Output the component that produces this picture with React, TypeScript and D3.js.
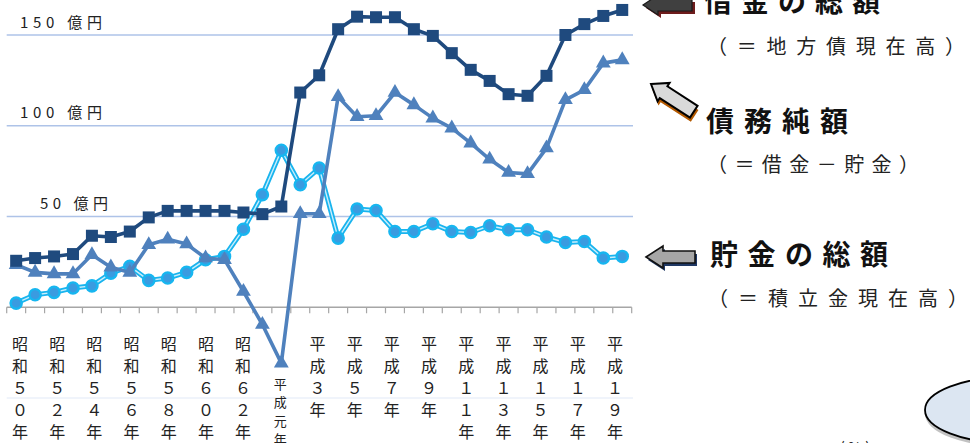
import React from 'react';
import * as d3 from 'd3';

const categories = [
  '昭和50年', '昭和51年', '昭和52年', '昭和53年', '昭和54年', '昭和55年', '昭和56年', '昭和57年',
  '昭和58年', '昭和59年', '昭和60年', '昭和61年', '昭和62年', '昭和63年', '平成元年', '平成2年',
  '平成3年', '平成4年', '平成5年', '平成6年', '平成7年', '平成8年', '平成9年', '平成10年',
  '平成11年', '平成12年', '平成13年', '平成14年', '平成15年', '平成16年', '平成17年', '平成18年', '平成19年',
];

// 借金の総額（地方債現在高）
const debtTotal = [
  25.6, 27.1, 28, 29.3, 39.4, 38.7, 41.7, 49.5, 53.1, 53.1, 53.1, 53.1, 52.2, 51.3, 55.5, 118.3,
  127.8, 153.2, 160.1, 159.8, 159.8, 153.2, 149.5, 140, 130.8, 124.7, 117.4, 116.5, 127.5, 150, 156, 160.5, 163.8,
];
// 債務純額（借金－貯金）
const netDebt = [
  23.4, 19.2, 18.4, 18.4, 28.9, 22.1, 19.2, 34.4, 37.5, 34.8, 27.1, 26.2, 8.7, -9.5, -30.8, 51.5,
  51.5, 116, 105, 105.5, 118.3, 111.5, 104.2, 98.7, 90.4, 81.5, 74.2, 73.5, 87.7, 114.3, 119.8, 134.5, 136.3,
];
// 貯金の総額（積立金現在高）
const savings = [
  2.3, 6.9, 8.2, 10.6, 11.8, 18.8, 22.5, 14.8, 16.1, 19.2, 26.2, 28, 43, 62, 86.5, 67.5,
  76.7, 38.1, 54.1, 53.3, 41.7, 41.7, 46, 41.7, 41.2, 44.9, 42.7, 42.7, 38.7, 35.7, 36.2, 27.1, 28,
];

const tickLabels = [
  '昭和50年', '昭和52年', '昭和54年', '昭和56年', '昭和58年', '昭和60年', '昭和62年', '平成元年',
  '平成3年', '平成5年', '平成7年', '平成9年', '平成11年', '平成13年', '平成15年', '平成17年', '平成19年',
];

const gridValues = [150, 100, 50];
const gridLabels = ['150 億円', '100 億円', '50 億円'];

const FONT = "'Noto Sans CJK JP', 'Noto Sans', sans-serif";

const toFull = (c: string) => (/[0-9]/.test(c) ? String.fromCharCode(c.charCodeAt(0) + 0xfee0) : c);

function arrowPath(len: number, headLen: number, headHalf: number, bodyHalf: number) {
  return `M0,0 L${headLen},${-headHalf} L${headLen},${-bodyHalf} L${len},${-bodyHalf} L${len},${bodyHalf} L${headLen},${bodyHalf} L${headLen},${headHalf} Z`;
}

export default function App() {
  const W = 970;
  const H = 443;
  const x = d3.scaleBand<number>().domain(d3.range(categories.length)).range([6.7, 631.7]);
  const cx = (i: number) => (x(i) as number) + x.bandwidth() / 2;
  const y = d3.scaleLinear().domain([-50, 150]).range([398, 35]);
  const labelX = d3.scalePoint<string>().domain(tickLabels).range([20, 615]);

  const line = d3
    .line<number>()
    .x((_, i) => cx(i))
    .y((d) => y(d));

  const tickPositions = d3.range(categories.length + 1).map((i) => 6.7 + i * x.step());
  const triangle = d3.symbol().type(d3.symbolTriangle).size(95)();

  const yLabelStart = [20, 20, 40];
  const yLabelLen = [82, 82, 68];

  return (
    <svg
      width={W}
      height={H}
      style={{ position: 'absolute', left: 0, top: 0, background: '#fff', overflow: 'hidden' }}
      fontFamily={FONT}
    >
      <rect x={0} y={0} width={W} height={H} fill="#ffffff" />
      {/* gridlines */}
      {gridValues.map((v) => (
        <line key={v} x1={6.7} x2={633} y1={y(v)} y2={y(v)} stroke="#aec3e8" strokeWidth={1.4} />
      ))}
      <line x1={6.7} x2={633} y1={y(-50)} y2={y(-50)} stroke="#e2eaf7" strokeWidth={1.2} />
      {gridLabels.map((t, i) => (
        <text
          key={t}
          x={yLabelStart[i]}
          y={y(gridValues[i]) - 14}
          fontSize={15}
          fill="#222"
          dominantBaseline="central"
          textLength={yLabelLen[i]}
          lengthAdjust="spacing"
        >
          {t}
        </text>
      ))}

      {/* x axis */}
      <line x1={6.7} x2={631.7} y1={y(0)} y2={y(0)} stroke="#a6a6a6" strokeWidth={1.5} />
      {tickPositions.map((t, i) => (
        <line key={i} x1={t} x2={t} y1={y(0)} y2={y(0) + 6} stroke="#a6a6a6" strokeWidth={1.2} />
      ))}

      {/* savings: cyan double line */}
      <path d={line(savings) || ''} fill="none" stroke="#19b4ee" strokeWidth={5} strokeLinejoin="round" />
      <path d={line(savings) || ''} fill="none" stroke="#c9eefc" strokeWidth={1.4} strokeLinejoin="round" />
      {savings.map((v, i) => (
        <circle key={i} cx={cx(i)} cy={y(v)} r={5.6} fill="#3a9be0" stroke="#17b6f0" strokeWidth={2.4} />
      ))}

      {/* net debt */}
      <path d={line(netDebt) || ''} fill="none" stroke="#4f81bd" strokeWidth={3.6} strokeLinejoin="round" />
      {netDebt.map((v, i) => (
        <path key={i} d={triangle || ''} transform={`translate(${cx(i)},${y(v)})`} fill="#4f81bd" />
      ))}

      {/* debt total */}
      <path d={line(debtTotal) || ''} fill="none" stroke="#1f4a7e" strokeWidth={3.6} strokeLinejoin="round" />
      {debtTotal.map((v, i) => (
        <rect key={i} x={cx(i) - 6} y={y(v) - 6} width={12} height={12} fill="#1f4a7e" />
      ))}

      {/* category labels (vertical) */}
      {tickLabels.map((lab) => {
        const small = lab === '平成元年';
        const chars = lab.split('').map(toFull);
        const x0 = labelX(lab) as number;
        const start = small ? 383 : 343;
        const step = small ? 18.5 : 22;
        return (
          <g key={lab}>
            {chars.map((c, k) => (
              <text
                key={k}
                x={x0}
                y={start + k * step}
                fontSize={small ? 13 : 16}
                textAnchor="middle"
                dominantBaseline="central"
                fill="#222"
              >
                {c}
              </text>
            ))}
          </g>
        );
      })}

      {/* arrow 1 (借金の総額) */}
      <g transform="translate(643,5)">
        <path d={arrowPath(49, 15, 10, 6)} transform="translate(3,3)" fill="#6d1c1c" />
        <path d={arrowPath(49, 15, 10, 6)} fill="#404040" stroke="#1a1a1a" strokeWidth={1.2} />
      </g>
      {/* arrow 2 (債務純額) */}
      <g transform="translate(651,84) rotate(33)">
        <path d={arrowPath(51, 15, 11, 7)} transform="translate(3,3)" fill="#b35900" />
        <path d={arrowPath(51, 15, 11, 7)} fill="#d9d9d9" stroke="#000" strokeWidth={2} />
      </g>
      {/* arrow 3 (貯金の総額) */}
      <g transform="translate(646,257)">
        <path d={arrowPath(49, 17, 11, 6)} transform="translate(2,3)" fill="#1f3864" />
        <path d={arrowPath(49, 17, 11, 6)} fill="#a6a6a6" stroke="#111" strokeWidth={1.6} />
      </g>

      {/* annotations */}
      <text x={704} y={0} fontSize={28} fontWeight="bold" dominantBaseline="central" textLength={176} lengthAdjust="spacing" fill="#111">
        借金の総額
      </text>
      <text x={707} y={45} fontSize={20} dominantBaseline="central" textLength={258} lengthAdjust="spacing" fill="#222">
        （＝地方債現在高）
      </text>
      <text x={706} y={120} fontSize={28} fontWeight="bold" dominantBaseline="central" textLength={142} lengthAdjust="spacing" fill="#111">
        債務純額
      </text>
      <text x={707} y={163} fontSize={20} dominantBaseline="central" textLength={212} lengthAdjust="spacing" fill="#222">
        （＝借金－貯金）
      </text>
      <text x={710} y={253} fontSize={28} fontWeight="bold" dominantBaseline="central" textLength={178} lengthAdjust="spacing" fill="#111">
        貯金の総額
      </text>
      <text x={708} y={297} fontSize={20} dominantBaseline="central" textLength={260} lengthAdjust="spacing" fill="#222">
        （＝積立金現在高）
      </text>

      {/* ellipse bubble */}
      <ellipse cx={1010} cy={414} rx={85} ry={33} fill="#9a9a9a" opacity={0.6} />
      <ellipse cx={1010} cy={410} rx={85} ry={33} fill="#dce6f2" stroke="#000" strokeWidth={1.8} />
      <text x={855} y={446} fontSize={15} textAnchor="middle" dominantBaseline="central" fill="#222">
        ( % )
      </text>
    </svg>
  );
}
